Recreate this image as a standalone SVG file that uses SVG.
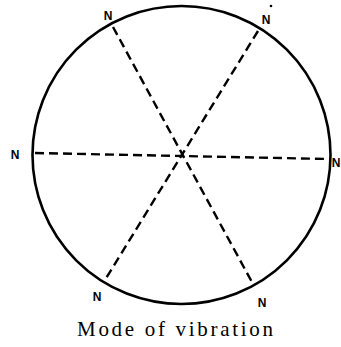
<svg xmlns="http://www.w3.org/2000/svg" width="341" height="347" viewBox="0 0 341 347">
<style>
.rim{fill:none;stroke:#000;stroke-width:2.6}
.nd{stroke:#000;stroke-width:2.4;stroke-dasharray:9 5;fill:none}
.n{font-family:"Liberation Sans",Arial,sans-serif;font-weight:bold;font-size:12px;fill:#000;text-anchor:middle}
.cap{font-family:"Liberation Serif","Times New Roman",serif;font-size:21px;fill:#000;text-anchor:middle}
</style>
<rect width="341" height="347" fill="#fff"/>
<g id="plate"><circle class="rim" cx="181.5" cy="155" r="149"/></g>
<g id="nodal-lines">
<line class="nd" x1="35" y1="153" x2="328" y2="159"/>
<line class="nd" x1="113" y1="27" x2="253" y2="284"/>
<line class="nd" x1="258" y1="31" x2="105" y2="280"/>
</g>
<g id="labels">
<text class="n" x="108" y="20">N</text>
<text class="n" x="266" y="24">N</text>
<circle cx="271" cy="6" r="1.3" fill="#000"/>
<text class="n" x="15" y="159">N</text>
<text class="n" x="336" y="167">N</text>
<text class="n" x="97" y="301">N</text>
<text class="n" x="262" y="307">N</text>
</g>
<g id="caption"><text class="cap" x="175" y="336" textLength="196" lengthAdjust="spacing">Mode of vibration</text></g>
</svg>
